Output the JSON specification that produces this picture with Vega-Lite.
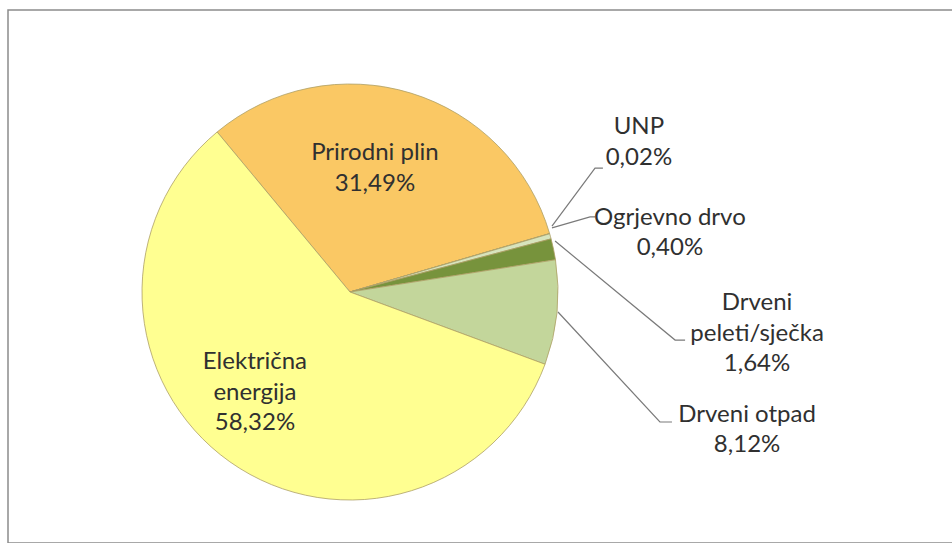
{
  "$schema": "https://vega.github.io/schema/vega-lite/v6.json",
  "width": 952,
  "height": 533,
  "autosize": "none",
  "padding": {"left": 8, "top": 10, "right": 0, "bottom": 0},
  "background": "white",
  "config": {"view": {"stroke": "#8c8c8c", "strokeWidth": 1.5}},
  "datasets": {
    "shares": [
      {"idx": 1, "source": "Prirodni plin", "value": 31.49},
      {"idx": 2, "source": "UNP", "value": 0.02},
      {"idx": 3, "source": "Ogrjevno drvo", "value": 0.40},
      {"idx": 4, "source": "Drveni peleti/sječka", "value": 1.64},
      {"idx": 5, "source": "Drveni otpad", "value": 8.12},
      {"idx": 6, "source": "Električna energija", "value": 58.32}
    ],
    "leaders": [
      {"id": "UNP", "ord": 1, "lx": 97.1, "ly": 31.7},
      {"id": "UNP", "ord": 2, "lx": 117.8, "ly": 59.6},
      {"id": "UNP", "ord": 3, "lx": 121.6, "ly": 59.6},
      {"id": "Ogrjevno", "ord": 1, "lx": 97.1, "ly": 30.8},
      {"id": "Ogrjevno", "ord": 2, "lx": 115.4, "ly": 36.1},
      {"id": "Ogrjevno", "ord": 3, "lx": 117.8, "ly": 36.1},
      {"id": "Peleti", "ord": 1, "lx": 98.6, "ly": 24.5},
      {"id": "Peleti", "ord": 2, "lx": 156.3, "ly": -23.1},
      {"id": "Peleti", "ord": 3, "lx": 161.1, "ly": -23.1},
      {"id": "Otpad", "ord": 1, "lx": 100.0, "ly": -9.6},
      {"id": "Otpad", "ord": 2, "lx": 149.0, "ly": -62.5},
      {"id": "Otpad", "ord": 3, "lx": 154.8, "ly": -62.5}
    ],
    "labels": [
      {"lab": "Prirodni plin\n31,49%", "lx": 12.0, "ly": 66.8},
      {"lab": "Električna\nenergija\n58,32%", "lx": -45.7, "ly": -33.7},
      {"lab": "UNP\n0,02%", "lx": 138.9, "ly": 79.3},
      {"lab": "Ogrjevno drvo\n0,40%", "lx": 153.8, "ly": 35.6},
      {"lab": "Drveni\npeleti/sječka\n1,64%", "lx": 195.7, "ly": -5.3},
      {"lab": "Drveni otpad\n8,12%", "lx": 190.9, "ly": -59.1}
    ]
  },
  "layer": [
    {
      "data": {"name": "shares"},
      "mark": {"type": "arc", "outerRadius": 208, "stroke": "#ad9f66", "strokeWidth": 0.8},
      "encoding": {
        "x": {"datum": 0, "type": "quantitative", "scale": {"domain": [-164.42, 293.27], "nice": false, "zero": false}, "axis": null},
        "y": {"datum": 0, "type": "quantitative", "scale": {"domain": [-120.67, 135.58], "nice": false, "zero": false}, "axis": null},
        "theta": {"field": "value", "type": "quantitative", "stack": true, "scale": {"range": [-0.6929, 5.5903]}},
        "order": {"field": "idx", "type": "quantitative"},
        "color": {
          "field": "source", "type": "nominal", "legend": null,
          "scale": {
            "domain": ["Prirodni plin", "UNP", "Ogrjevno drvo", "Drveni peleti/sječka", "Drveni otpad", "Električna energija"],
            "range": ["#FAC864", "#A6A6A6", "#D7E4BD", "#77933C", "#C3D69B", "#FFFF91"]
          }
        }
      }
    },
    {
      "data": {"name": "leaders"},
      "mark": {"type": "line", "stroke": "#7a7a7a", "strokeWidth": 1.2},
      "encoding": {
        "x": {"field": "lx", "type": "quantitative", "scale": {"domain": [-164.42, 293.27], "nice": false, "zero": false}, "axis": null},
        "y": {"field": "ly", "type": "quantitative", "scale": {"domain": [-120.67, 135.58], "nice": false, "zero": false}, "axis": null},
        "detail": {"field": "id", "type": "nominal"},
        "order": {"field": "ord", "type": "quantitative"}
      }
    },
    {
      "data": {"name": "labels"},
      "mark": {"type": "text", "font": "Lato", "fontSize": 24, "lineBreak": "\n", "lineHeight": 30.5, "align": "center", "baseline": "middle", "color": "#303030"},
      "encoding": {
        "x": {"field": "lx", "type": "quantitative", "scale": {"domain": [-164.42, 293.27], "nice": false, "zero": false}, "axis": null},
        "y": {"field": "ly", "type": "quantitative", "scale": {"domain": [-120.67, 135.58], "nice": false, "zero": false}, "axis": null},
        "text": {"field": "lab", "type": "nominal"}
      }
    }
  ]
}
